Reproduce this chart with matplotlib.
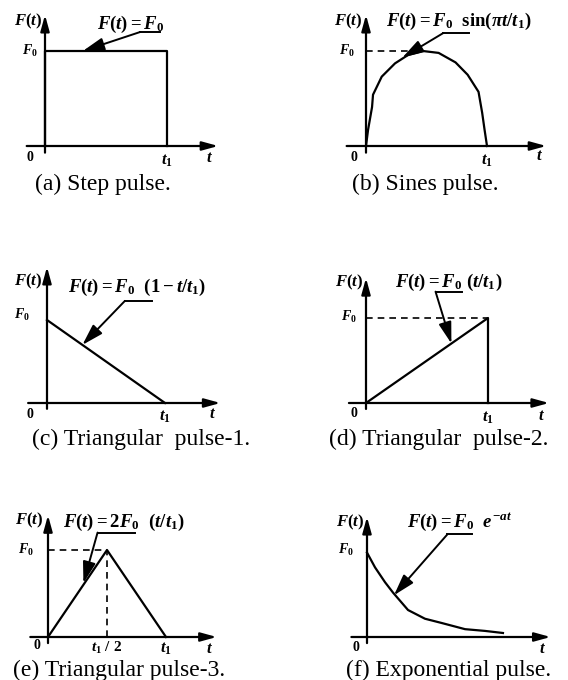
import matplotlib
matplotlib.use("Agg")
import matplotlib.pyplot as plt

plt.rcParams["mathtext.fontset"] = "custom"
plt.rcParams["mathtext.rm"] = "Liberation Serif:bold"
plt.rcParams["mathtext.it"] = "Liberation Serif:italic:bold"
plt.rcParams["mathtext.bf"] = "Liberation Serif:bold"

# pulse shapes, t in units of t1, F in units of F0
step_t = [0, 0, 1, 1]
step_F = [0, 1, 1, 0]

sine_t = [0, 0.017, 0.05, 0.058, 0.13, 0.24, 0.35, 0.47, 0.6, 0.74, 0.84, 0.93, 0.96, 0.98, 1.0]
sine_F = [0, 0.17, 0.41, 0.54, 0.73, 0.87, 0.96, 1.0, 0.98, 0.88, 0.75, 0.57, 0.35, 0.17, 0]

tri1_t = [0, 1]
tri1_F = [1, 0]

tri2_t = [0, 1, 1]
tri2_F = [0, 1, 0]

tri3_t = [0, 0.5, 1]
tri3_F = [0, 1, 0]

exp_t = [0, 0.067, 0.15, 0.217, 0.342, 0.483, 0.625, 0.817, 0.983, 1.133]
exp_F = [0.97, 0.80, 0.63, 0.51, 0.31, 0.21, 0.16, 0.09, 0.07, 0.046]

formulas = [
    r"$F(t) = F_0$",
    r"$F(t) = F_0\ \ \sin(\pi t/t_1)$",
    r"$F(t) = F_0\ \ (1-t/t_1)$",
    r"$F(t) = F_0\ (t/t_1)$",
    r"$F(t) = 2F_0\ \ (t/t_1)$",
    r"$F(t) = F_0\ \ e^{-at}$",
]
captions = [
    "(a) Step pulse.",
    "(b) Sines pulse.",
    "(c) Triangular  pulse-1.",
    "(d) Triangular  pulse-2.",
    "(e) Triangular pulse-3.",
    "(f) Exponential pulse.",
]

W, H = 568, 680
fig = plt.figure(figsize=(W / 100, H / 100), dpi=100)
fig.patch.set_facecolor("white")

LW = 1.6


def make_panel(ox, oy, sx, sy):
    # axes whose data origin sits at pixel (ox, oy), one unit = (sx, sy) px
    x0, x1, y0, y1 = -0.4, 1.7, -0.35, 1.7
    left = (ox + x0 * sx) / W
    bottom = (H - (oy - y0 * sy)) / H
    ax = fig.add_axes([left, bottom, (x1 - x0) * sx / W, (y1 - y0) * sy / H])
    ax.set_xlim(x0, x1)
    ax.set_ylim(y0, y1)
    ax.axis("off")
    return ax


def draw_axes(ax, xr, ytop):
    arrow = dict(arrowstyle="-|>,head_length=0.8,head_width=0.22", lw=LW,
                 color="k", shrinkA=0, shrinkB=0, mutation_scale=12)
    ax.annotate("", xy=(xr[1], 0), xytext=(xr[0], 0), arrowprops=arrow)
    ax.annotate("", xy=(0, ytop), xytext=(0, -0.07), arrowprops=arrow)


def leader(ax, text, text_xy, knee, end, tip, fs=13.5):
    ax.text(*text_xy, text, ha="center", va="center", fontsize=fs, clip_on=False)
    ax.plot([knee[0], end], [knee[1], knee[1]], color="k", lw=1.4)
    ax.annotate("", xy=tip, xytext=knee,
                arrowprops=dict(arrowstyle="-|>,head_length=1.0,head_width=0.3",
                                lw=1.4, color="k", shrinkA=0, shrinkB=0,
                                mutation_scale=13))


def labels(ax, ft, f0, zero, t1=None, t=None, fs=12):
    ax.text(*ft, r"$F(t)$", ha="center", va="center", fontsize=fs)
    ax.text(*f0, r"$F_0$", ha="center", va="center", fontsize=fs - 2)
    ax.text(*zero, r"$0$", ha="center", va="center", fontsize=fs - 2)
    if t1 is not None:
        ax.text(*t1, r"$t_1$", ha="center", va="center", fontsize=fs)
    if t is not None:
        ax.text(*t, r"$t$", ha="center", va="center", fontsize=fs)


dash = (0, (4, 3))

# (a) step pulse
ax = make_panel(45, 146, 122, 95)
draw_axes(ax, (-0.15, 1.42), 1.38)
ax.plot(step_t, step_F, color="k", lw=LW)
labels(ax, (-0.14, 1.31), (-0.12, 1.0), (-0.12, -0.12), (1.0, -0.15), (1.35, -0.12))
leader(ax, formulas[0], (0.70, 1.28), (0.78, 1.2), 0.94, (0.31, 1.0))

# (b) sine pulse
ax = make_panel(366, 146, 121, 95)
draw_axes(ax, (-0.16, 1.49), 1.38)
ax.plot(sine_t, sine_F, color="k", lw=LW)
ax.plot([0, sine_t[sine_F.index(max(sine_F))]], [1, 1], color="k", lw=1.2, ls=dash)
labels(ax, (-0.15, 1.31), (-0.16, 1.0), (-0.1, -0.12), (1.0, -0.15), (1.43, -0.1))
leader(ax, formulas[1], (0.77, 1.31), (0.64, 1.19), 0.85, (0.3, 0.93))

# (c) triangular pulse 1
ax = make_panel(47, 403, 118, 83)
draw_axes(ax, (-0.16, 1.47), 1.64)
ax.plot(tri1_t, tri1_F, color="k", lw=LW)
labels(ax, (-0.16, 1.46), (-0.21, 1.06), (-0.14, -0.13), (1.0, -0.16), (1.4, -0.12))
leader(ax, formulas[2], (0.76, 1.39), (0.66, 1.23), 0.89, (0.30, 0.70))

# (d) triangular pulse 2
ax = make_panel(366, 403, 122, 85)
draw_axes(ax, (-0.14, 1.5), 1.47)
ax.plot(tri2_t, tri2_F, color="k", lw=LW)
ax.plot([0, 1], [1, 1], color="k", lw=1.2, ls=dash)
labels(ax, (-0.14, 1.42), (-0.14, 1.01), (-0.1, -0.12), (1.0, -0.16), (1.44, -0.14))
leader(ax, formulas[3], (0.68, 1.42), (0.57, 1.31), 0.79, (0.70, 0.70))

# (e) triangular pulse 3
ax = make_panel(48, 637, 118, 87)
draw_axes(ax, (-0.15, 1.43), 1.40)
ax.plot(tri3_t, tri3_F, color="k", lw=LW)
ax.plot([0, 0.5], [1, 1], color="k", lw=1.2, ls=dash)
ax.plot([0.5, 0.5], [0, 1], color="k", lw=1.2, ls=dash)
labels(ax, (-0.16, 1.34), (-0.19, 1.0), (-0.09, -0.09), (1.0, -0.13), (1.37, -0.13))
ax.text(0.5, -0.13, r"$t_1\ /\ 2$", ha="center", va="center", fontsize=11)
leader(ax, formulas[4], (0.64, 1.32), (0.42, 1.2), 0.74, (0.30, 0.62))

# (f) exponential pulse
ax = make_panel(367, 637, 120, 87)
draw_axes(ax, (-0.13, 1.53), 1.38)
ax.plot(exp_t, exp_F, color="k", lw=LW)
labels(ax, (-0.14, 1.32), (-0.175, 1.0), (-0.09, -0.11), None, (1.46, -0.13))
leader(ax, formulas[5], (0.77, 1.32), (0.67, 1.18), 0.875, (0.225, 0.48))

# captions below each panel (left x, baseline y in pixels)
cap_pos = [(35, 190), (352, 190), (32, 445), (329, 445), (13, 676), (346, 676)]
for text, (x, y) in zip(captions, cap_pos):
    fig.text(x / W, 1 - y / H, text, ha="left", va="baseline",
             family="Liberation Serif", fontsize=17)

fig.savefig("out.png", dpi=100)
